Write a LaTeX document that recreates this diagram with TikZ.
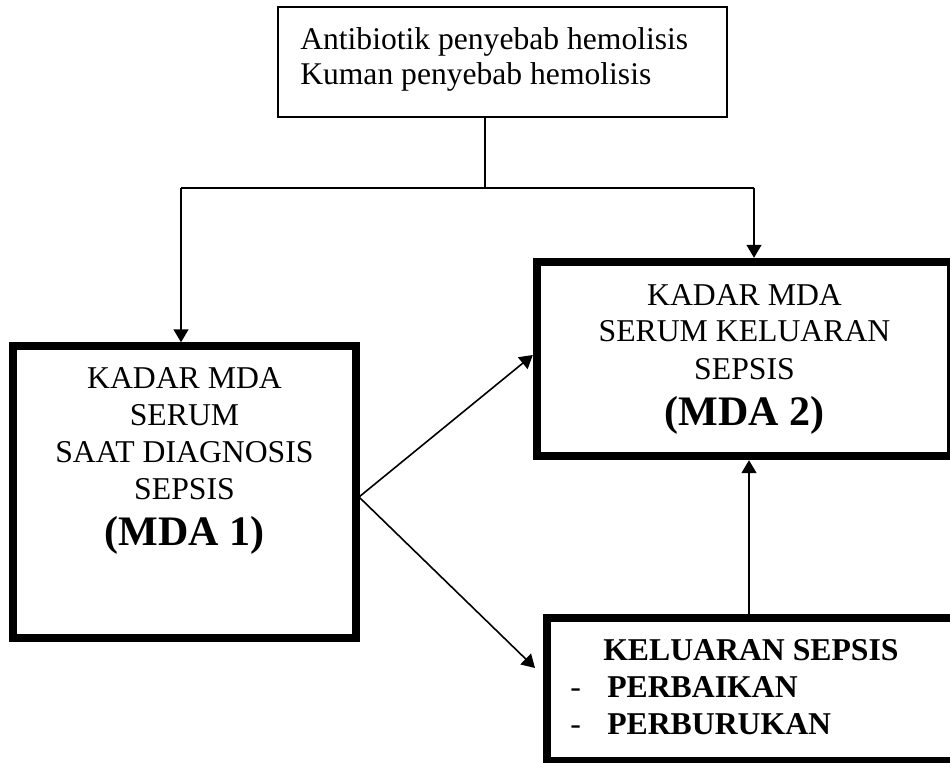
\documentclass[tikz,border=0pt]{standalone}
\usepackage{fontspec}
\setmainfont{Liberation Serif}
\usetikzlibrary{arrows.meta}
\begin{document}
\begin{tikzpicture}[x=0.75pt,y=-0.75pt,
  thickbox/.style={draw,line width=5.6pt,inner sep=0pt,rectangle},
  thinbox/.style={draw,line width=1.5pt,inner sep=0pt,rectangle},
  conn/.style={line width=1.2pt},
  arr/.style={conn,-{Triangle[length=9.75pt,width=11.25pt]}},
  txt/.style={inner sep=0pt,anchor=base,font=\fontsize{23.8pt}{27.75pt}\selectfont}]
\useasboundingbox (0,0) rectangle (950,763);

% boxes
\node[thinbox,minimum width=336.75pt,minimum height=82.5pt] (top) at (502.5,62) {};
\node[thickbox,minimum width=257.25pt,minimum height=219pt] (L) at (184.5,492) {};
\node[thickbox,line width=6.3pt,minimum width=310.5pt,minimum height=145.5pt] (R) at (744,359) {};
\node[thickbox,minimum width=330pt,minimum height=107.25pt] (B) at (767,689.5) {};

% texts
\node[txt,anchor=base west,font=\fontsize{23.7pt}{26.25pt}\selectfont] (toptxt) at (300,50)
  {\begin{tabular}[t]{@{}l@{}}Antibiotik penyebab hemolisis\\ Kuman penyebab hemolisis\end{tabular}};
\node[txt] (Ltxt) at (184.5,388)
  {\begin{tabular}[t]{@{}c@{}}KADAR MDA\\ SERUM\\ SAAT DIAGNOSIS\\ SEPSIS\\[5pt]
   \fontsize{31.5pt}{36pt}\selectfont\bfseries (MDA 1)\end{tabular}};
\node[txt] (Rtxt) at (744.5,305)
  {\begin{tabular}[t]{@{}c@{}}KADAR MDA\\ SERUM KELUARAN\\ SEPSIS\\[5pt]
   \fontsize{31.5pt}{36pt}\selectfont\bfseries (MDA 2)\end{tabular}};
\node[txt,anchor=base west] (Btxt) at (570,660)
  {\begin{tabular}[t]{@{}l@{}l@{}}\multicolumn{2}{@{}l@{}}{\hspace{24.75pt}\bfseries KELUARAN SEPSIS}\\
   \makebox[27.75pt][l]{-} & \bfseries PERBAIKAN\\
   \makebox[27.75pt][l]{-} & \bfseries PERBURUKAN\end{tabular}};

% connectors
\coordinate (j) at (485,188);
\coordinate (jl) at (181,188);
\coordinate (jr) at (754,188);
\coordinate (o) at (359,497);
\coordinate (bt) at (535,668);
\coordinate (v) at (749,560);
\draw[conn] (top.south -| j) -- (j);
\draw[conn] (jl) -- (jr);
\draw[arr] (jl) -- (jl |- L.north);
\draw[arr] (jr) -- (jr |- R.north);
\draw[arr] (o) -- ([yshift=3pt]R.west);
\draw[arr] (o) -- (bt);
\draw[arr] (B.north -| v) -- (R.south -| v);
\end{tikzpicture}
\end{document}
